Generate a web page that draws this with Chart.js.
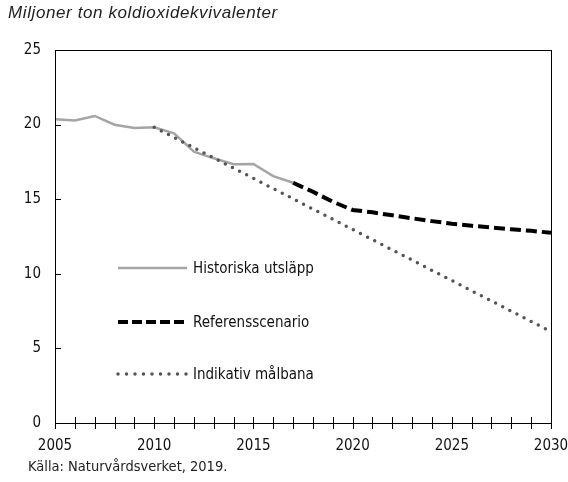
<!DOCTYPE html>
<html>
<head>
<meta charset="utf-8">
<script src="https://cdn.jsdelivr.net/npm/chart.js@4"></script>
<style>
  body { margin: 0; background: #fff; }
  #wrap { position: relative; width: 568px; height: 482px; }
  #title {
    position: absolute; left: 8px; top: 3px;
    font: italic 17px "Liberation Sans", Arial, sans-serif; color: #222;
    letter-spacing: 0.6px;
  }
  #source {
    position: absolute; left: 28px; top: 458px;
    font: 14.5px "Liberation Sans Narrow", "DejaVu Sans Condensed", sans-serif; color: #222;
  }
</style>
</head>
<body>
<div id="wrap">
  <canvas id="utslapp-chart" width="568" height="482"></canvas>
  <div id="title">Miljoner ton koldioxidekvivalenter</div>
  <div id="source">Källa: Naturvårdsverket, 2019.</div>
</div>
<script>
const FONT = '"Liberation Sans Narrow", "DejaVu Sans Condensed", sans-serif';

const histYears = [2005, 2006, 2007, 2008, 2009, 2010, 2011, 2012, 2013, 2014, 2015, 2016, 2017];
const historiska = [20.36, 20.27, 20.58, 19.99, 19.77, 19.82, 19.42, 18.18, 17.74, 17.34, 17.36, 16.55, 16.1];

const refYears = [2017, 2018, 2019, 2020, 2021, 2022, 2023, 2024, 2025, 2026, 2027, 2028, 2029, 2030];
const referens = [16.1, 15.5, 14.83, 14.28, 14.12, 13.92, 13.72, 13.53, 13.36, 13.22, 13.1, 12.98, 12.88, 12.75];

const malYears = [2010, 2011, 2012, 2013, 2014, 2015, 2016, 2017, 2018, 2019, 2020,
                  2021, 2022, 2023, 2024, 2025, 2026, 2027, 2028, 2029, 2030];
const malbana = [19.82, 19.14, 18.45, 17.77, 17.08, 16.4, 15.71, 15.03, 14.34, 13.66, 12.97,
                 12.29, 11.6, 10.92, 10.23, 9.55, 8.86, 8.18, 7.49, 6.81, 6.12];

const legendRows = ["Historiska utsläpp", "Referensscenario", "Indikativ målbana"];

function points(xs, ys) {
    return xs.map((x, i) => ({ x, y: ys[i] }));
}

// frame round the plot plus year ticks crossing the x axis
const framePlugin = {
    id: "frame",
    afterDraw(chart) {
        const { ctx, chartArea: a, scales } = chart;
        ctx.save();
        ctx.strokeStyle = "#000";
        ctx.lineWidth = 1;
        ctx.strokeRect(a.left + 0.5, a.top + 0.5, a.right - a.left, a.bottom - a.top);
        ctx.beginPath();
        scales.x.ticks.forEach((t) => {
            const px = Math.round(scales.x.getPixelForValue(t.value)) + 0.5;
            ctx.moveTo(px, a.bottom - 6);
            ctx.lineTo(px, a.bottom + 6);
        });
        scales.y.ticks.forEach((t) => {
            const py = Math.round(scales.y.getPixelForValue(t.value)) + 0.5;
            ctx.moveTo(a.left, py);
            ctx.lineTo(a.left + 6, py);
        });
        ctx.stroke();
        ctx.restore();
    },
};

// legend drawn inside the plot, one row per series
const legendPlugin = {
    id: "innerLegend",
    afterDraw(chart) {
        const { ctx } = chart;
        const rowsY = [268, 322, 374];
        ctx.save();
        ctx.font = "15px " + FONT;
        ctx.textBaseline = "middle";
        chart.data.datasets.forEach((ds, i) => {
            const y = rowsY[i];
            ctx.beginPath();
            ctx.strokeStyle = ds.borderColor;
            ctx.lineWidth = ds.borderWidth;
            ctx.lineCap = ds.borderCapStyle || "butt";
            ctx.setLineDash(ds.legendDash || ds.borderDash || []);
            ctx.moveTo(118, y);
            ctx.lineTo(187, y);
            ctx.stroke();
            ctx.setLineDash([]);
            ctx.fillStyle = "#111";
            ctx.fillText(legendRows[i], 193, y + 1);
        });
        ctx.restore();
    },
};

const ctx = document.getElementById("utslapp-chart");

new Chart(ctx, {
    type: "line",
    data: {
        datasets: [
            {
                label: legendRows[0],
                data: points(histYears, historiska),
                borderColor: "#a5a5a5",
                borderWidth: 2.5,
                order: 2,
            },
            {
                label: legendRows[1],
                data: points(refYears, referens),
                borderColor: "#000",
                borderWidth: 4,
                borderDash: [11, 5],
                legendDash: [10, 4],
                order: 1,
            },
            {
                label: legendRows[2],
                data: points(malYears, malbana),
                borderColor: "#555",
                borderWidth: 3.5,
                borderDash: [0, 8],
                legendDash: [0, 8.5],
                borderCapStyle: "round",
                order: 0,
            },
        ],
    },
    options: {
        responsive: false,
        animation: false,
        events: [],
        layout: { padding: { top: 50, right: 17, left: 0, bottom: 0 } },
        elements: {
            point: { radius: 0 },
            line: { tension: 0, fill: false },
        },
        plugins: {
            legend: { display: false },
            tooltip: { enabled: false },
        },
        scales: {
            x: {
                type: "linear",
                min: 2005,
                max: 2030,
                afterFit(scale) {
                    scale.height = 59;
                    // let the 2030 label hang into the right margin
                    scale.paddingLeft = 0;
                    scale.paddingRight = 0;
                },
                grid: { display: false, drawTicks: false },
                border: { display: false },
                ticks: {
                    stepSize: 1,
                    autoSkip: false,
                    maxRotation: 0,
                    padding: 14,
                    color: "#111",
                    font: { family: FONT, size: 15 },
                    callback: (v) => (v % 5 === 0 ? String(v) : ""),
                },
            },
            y: {
                min: 0,
                max: 25,
                afterFit(scale) { scale.width = 55; },
                grid: { display: false, drawTicks: false },
                border: { display: false },
                ticks: {
                    stepSize: 5,
                    padding: 14,
                    color: "#111",
                    font: { family: FONT, size: 15 },
                },
            },
        },
    },
    plugins: [framePlugin, legendPlugin],
});
</script>
</body>
</html>
